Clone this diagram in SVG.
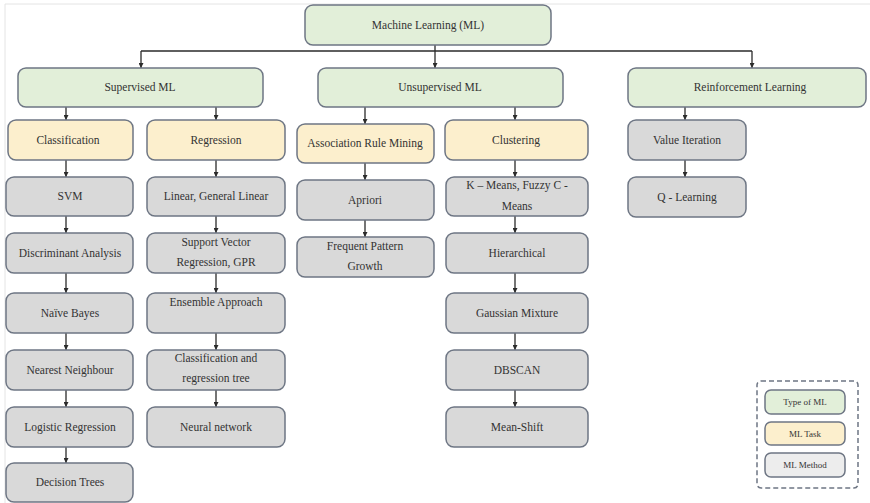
<svg xmlns="http://www.w3.org/2000/svg" width="870" height="503" viewBox="0 0 870 503">
  <defs>
    <marker id="arr" viewBox="0 0 10 10" refX="10" refY="5" markerWidth="5" markerHeight="5" orient="auto" markerUnits="userSpaceOnUse">
      <path d="M0,0 L10,5 L0,10 z" fill="#2b2b2b"/>
    </marker>
  </defs>
  <style>
    .box { stroke: #6e7684; stroke-width: 1.5; }
    .type { fill: #e2efd9; }
    .task { fill: #fcefcd; }
    .meth { fill: #d9d9d9; }
    .legm { fill: #ededed; }
    text { font-family: "Liberation Serif", "DejaVu Serif", serif; font-size: 11.5px; fill: #333333; text-anchor: middle; }
    .small { font-size: 9px; }
    .link { stroke: #2b2b2b; stroke-width: 1.3; fill: none; }
    .linkA { stroke: #2b2b2b; stroke-width: 1.3; fill: none; marker-end: url(#arr); }
    .frame { stroke: #e4e4e4; stroke-width: 1; fill: none; }
  </style>

  <rect width="870" height="503" fill="#ffffff"/>
  <path class="frame" d="M5,503 V4 H870"/>

  <!-- connectors -->
  <g id="connectors">
    <path class="link" d="M435,45 V51 M141,51 H752"/>
    <path class="linkA" d="M141,51 V68"/>
    <path class="linkA" d="M435,51 V68"/>
    <path class="linkA" d="M752,51 V68"/>

    <path class="linkA" d="M66,107 V120"/>
    <path class="linkA" d="M216,107 V120"/>
    <path class="linkA" d="M365,107 V124"/>
    <path class="linkA" d="M515,107 V120"/>
    <path class="linkA" d="M685,107 V120"/>

    <!-- classification chain -->
    <path class="linkA" d="M66,160 V177"/>
    <path class="linkA" d="M66,216 V233"/>
    <path class="linkA" d="M66,273 V293"/>
    <path class="linkA" d="M66,333 V350"/>
    <path class="linkA" d="M66,390 V407"/>
    <path class="linkA" d="M66,447 V463"/>

    <!-- regression chain -->
    <path class="linkA" d="M216,160 V177"/>
    <path class="linkA" d="M216,216 V233"/>
    <path class="linkA" d="M216,273 V293"/>
    <path class="linkA" d="M216,333 V350"/>
    <path class="linkA" d="M216,390 V407"/>

    <!-- association rule chain -->
    <path class="linkA" d="M365,163 V180"/>
    <path class="linkA" d="M365,220 V237"/>

    <!-- clustering chain -->
    <path class="linkA" d="M515,160 V177"/>
    <path class="linkA" d="M515,216 V233"/>
    <path class="linkA" d="M515,273 V293"/>
    <path class="linkA" d="M515,333 V350"/>
    <path class="linkA" d="M515,390 V407"/>

    <!-- reinforcement chain -->
    <path class="linkA" d="M685,160 V177"/>
  </g>

  <!-- types of ML -->
  <g id="ml"><rect class="box type" x="305" y="5" width="246" height="40" rx="8"/><text x="428" y="29">Machine Learning (ML)</text></g>
  <g id="supervised"><rect class="box type" x="18" y="68" width="245" height="39" rx="8"/><text x="140" y="91">Supervised ML</text></g>
  <g id="unsupervised"><rect class="box type" x="318" y="68" width="245" height="39" rx="8"/><text x="440" y="91">Unsupervised ML</text></g>
  <g id="reinforcement"><rect class="box type" x="628" y="68" width="238" height="39" rx="8"/><text x="750" y="91">Reinforcement Learning</text></g>

  <!-- tasks -->
  <g id="classification"><rect class="box task" x="8" y="120" width="125" height="40" rx="8"/><text x="68" y="144">Classification</text></g>
  <g id="regression"><rect class="box task" x="147" y="120" width="138" height="40" rx="8"/><text x="216" y="144">Regression</text></g>
  <g id="arm"><rect class="box task" x="297" y="124" width="137" height="39" rx="8"/><text x="365" y="147">Association Rule Mining</text></g>
  <g id="clustering"><rect class="box task" x="445" y="120" width="143" height="40" rx="8"/><text x="516" y="144">Clustering</text></g>

  <!-- classification methods -->
  <g id="svm"><rect class="box meth" x="6" y="177" width="127" height="39" rx="8"/><text x="70" y="200">SVM</text></g>
  <g id="da"><rect class="box meth" x="6" y="233" width="127" height="40" rx="8"/><text x="70" y="257">Discriminant Analysis</text></g>
  <g id="nb"><rect class="box meth" x="6" y="293" width="127" height="40" rx="8"/><text x="70" y="317">Naïve Bayes</text></g>
  <g id="nn"><rect class="box meth" x="6" y="350" width="127" height="40" rx="8"/><text x="70" y="374">Nearest Neighbour</text></g>
  <g id="lr"><rect class="box meth" x="6" y="407" width="127" height="40" rx="8"/><text x="70" y="431">Logistic Regression</text></g>
  <g id="dt"><rect class="box meth" x="6" y="463" width="127" height="39" rx="8"/><text x="70" y="486">Decision Trees</text></g>

  <!-- regression methods -->
  <g id="linear"><rect class="box meth" x="147" y="177" width="138" height="39" rx="8"/><text x="216" y="200">Linear, General Linear</text></g>
  <g id="svr"><rect class="box meth" x="147" y="233" width="138" height="40" rx="8"/><text x="216" y="246">Support Vector</text><text x="216" y="266">Regression, GPR</text></g>
  <g id="ensemble"><rect class="box meth" x="147" y="293" width="138" height="40" rx="8"/><text x="216" y="306">Ensemble Approach</text></g>
  <g id="cart"><rect class="box meth" x="147" y="350" width="138" height="40" rx="8"/><text x="216" y="362">Classification and</text><text x="216" y="382">regression tree</text></g>
  <g id="neural"><rect class="box meth" x="147" y="407" width="138" height="40" rx="8"/><text x="216" y="431">Neural network</text></g>

  <!-- association rule methods -->
  <g id="apriori"><rect class="box meth" x="297" y="180" width="137" height="40" rx="8"/><text x="365" y="204">Apriori</text></g>
  <g id="fpg"><rect class="box meth" x="297" y="237" width="137" height="40" rx="8"/><text x="365" y="250">Frequent Pattern</text><text x="365" y="270">Growth</text></g>

  <!-- clustering methods -->
  <g id="kmeans"><rect class="box meth" x="446" y="177" width="142" height="39" rx="8"/><text x="517" y="189">K – Means, Fuzzy C -</text><text x="517" y="210">Means</text></g>
  <g id="hier"><rect class="box meth" x="446" y="233" width="142" height="40" rx="8"/><text x="517" y="257">Hierarchical</text></g>
  <g id="gmm"><rect class="box meth" x="446" y="293" width="142" height="40" rx="8"/><text x="517" y="317">Gaussian Mixture</text></g>
  <g id="dbscan"><rect class="box meth" x="446" y="350" width="142" height="40" rx="8"/><text x="517" y="374">DBSCAN</text></g>
  <g id="meanshift"><rect class="box meth" x="446" y="407" width="142" height="40" rx="8"/><text x="517" y="431">Mean-Shift</text></g>

  <!-- reinforcement methods -->
  <g id="vi"><rect class="box meth" x="628" y="120" width="118" height="40" rx="8"/><text x="687" y="144">Value Iteration</text></g>
  <g id="ql"><rect class="box meth" x="628" y="177" width="118" height="40" rx="8"/><text x="687" y="201">Q - Learning</text></g>

  <!-- legend -->
  <g id="legend">
    <rect x="757" y="381" width="101" height="107" rx="4" fill="none" stroke="#6e7684" stroke-width="1.5" stroke-dasharray="5,3"/>
    <rect class="box type" x="765" y="390" width="80" height="24" rx="6"/><text class="small" x="805" y="405">Type of ML</text>
    <rect class="box task" x="765" y="422" width="80" height="23" rx="6"/><text class="small" x="805" y="437">ML Task</text>
    <rect class="box legm" x="765" y="453" width="80" height="24" rx="6"/><text class="small" x="805" y="468">ML Method</text>
  </g>
</svg>
